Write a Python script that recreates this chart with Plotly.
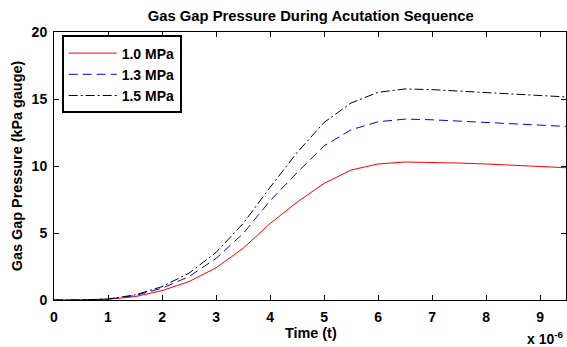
import plotly.graph_objects as go

time_us = [0, 0.5, 1, 1.5, 2, 2.5, 3, 3.5, 4, 4.5, 5, 5.5, 6, 6.5, 7, 7.5, 8, 8.5, 9, 9.5]
p_10 = [0, 0, 0.05, 0.25, 0.7, 1.38, 2.4, 3.85, 5.7, 7.3, 8.7, 9.7, 10.15, 10.3, 10.28, 10.22, 10.15, 10.05, 9.95, 9.87]
p_13 = [0, 0, 0.07, 0.33, 0.88, 1.75, 3.1, 4.95, 7.4, 9.5, 11.5, 12.7, 13.3, 13.5, 13.45, 13.35, 13.25, 13.15, 13.05, 12.95]
p_15 = [0, 0, 0.08, 0.38, 1.0, 2.0, 3.55, 5.7, 8.4, 11.0, 13.25, 14.7, 15.5, 15.75, 15.7, 15.6, 15.5, 15.4, 15.3, 15.15]
series_names = ["1.0 MPa", "1.3 MPa", "1.5 MPa"]
x_ticks = [0, 1, 2, 3, 4, 5, 6, 7, 8, 9]
y_ticks = [0, 5, 10, 15, 20]

t = [v * 1e-6 for v in time_us]
FONT = "Liberation Sans, Arial, sans-serif"
FS = 14

fig = go.Figure()
fig.add_trace(go.Scatter(x=t, y=p_10, mode="lines", name=series_names[0],
                         line=dict(color="#ff0000", width=1)))
fig.add_trace(go.Scatter(x=t, y=p_13, mode="lines", name=series_names[1],
                         line=dict(color="#0000ff", width=1, dash="9px,5px")))
fig.add_trace(go.Scatter(x=t, y=p_15, mode="lines", name=series_names[2],
                         line=dict(color="#000000", width=1, dash="9px,3px,2px,3px")))

fig.update_layout(
    width=567, height=347,
    margin=dict(l=54, r=1, t=32, b=47, autoexpand=False),
    paper_bgcolor="white", plot_bgcolor="white",
    font=dict(family=FONT, size=FS, color="black", weight="bold"),
    title=dict(text="Gas Gap Pressure During Acutation Sequence", x=0.548, xanchor="center",
               y=0.953, yanchor="middle", font=dict(size=14.8, weight="bold")),
    showlegend=True,
    legend=dict(x=0.015, y=0.987, xanchor="left", yanchor="top",
                bordercolor="black", borderwidth=2, bgcolor="white",
                font=dict(size=14, weight="bold"), tracegroupgap=0, itemwidth=48),
    xaxis=dict(range=[0, 9.48e-6], tickvals=[v * 1e-6 for v in x_ticks],
               ticktext=[str(v) for v in x_ticks], automargin=False,
               showgrid=False, zeroline=False, showline=True, linecolor="black", linewidth=1,
               mirror="ticks", ticks="inside", ticklen=5, tickcolor="black",
               ticklabelstandoff=4, tickfont=dict(size=FS, weight="bold")),
    yaxis=dict(range=[0, 20], tickvals=y_ticks, ticktext=[str(v) for v in y_ticks], automargin=False,
               showgrid=False, zeroline=False, showline=True, linecolor="black", linewidth=1,
               mirror="ticks", ticks="inside", ticklen=5, tickcolor="black",
               ticklabelstandoff=3, tickfont=dict(size=FS, weight="bold")),
)

fig.add_annotation(text="Time (t)", xref="paper", yref="paper", x=0.502, y=-0.123,
                   xanchor="center", yanchor="middle", showarrow=False,
                   font=dict(size=14.4, weight="bold"))
fig.add_annotation(text="Gas Gap Pressure (kPa gauge)", xref="paper", yref="paper", x=-0.072, y=0.5,
                   xanchor="center", yanchor="middle", showarrow=False, textangle=-90,
                   font=dict(size=14.4, weight="bold"))
fig.add_annotation(text="x 10<sup>-6</sup>", xref="paper", yref="paper", x=1.0, y=-0.141,
                   xanchor="right", yanchor="middle", showarrow=False,
                   font=dict(size=14, weight="bold"))

fig.write_html("out.html", config={"displayModeBar": False},
               post_script="document.body.style.margin='0';document.body.style.overflow='hidden';")
